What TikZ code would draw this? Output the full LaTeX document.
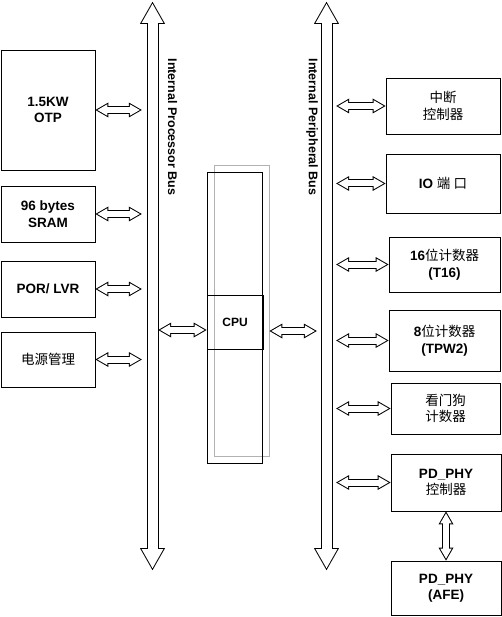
\documentclass[tikz,border=0pt]{standalone}
\usepackage{fontspec}
\setmainfont{Liberation Sans}
\newfontfamily\cjk{Noto Sans CJK SC}
\usetikzlibrary{arrows.meta}
\newcommand{\zh}[1]{{\cjk\mdseries #1}}
\tikzset{
  unit/.style={draw, line width=0.8pt, align=center, inner sep=0pt, font=\fontsize{13.5}{16.5}\selectfont\bfseries},
  busshaft/.style={inner sep=0pt, minimum width=11pt, minimum height=568pt},
  buslabel/.style={rotate=-90, inner sep=0pt, font=\fontsize{12.5}{15}\selectfont\bfseries},
  linkarrow/.style={draw=white, line width=6pt,
    >={Triangle[length=10pt,width=11.5pt,line width=0pt]}, <->,
    shorten <=2pt, shorten >=2pt,
    preaction={draw=black, line width=8pt,
      >={Triangle[length=13pt,width=15pt,line width=0pt]}, <->,
      shorten <=0pt, shorten >=0pt}},
  busarrow/.style={draw=white, line width=10pt,
    >={Triangle[length=19pt,width=21.6pt,line width=0pt]}, <->,
    shorten <=2pt, shorten >=2pt,
    preaction={draw=black, line width=12pt,
      >={Triangle[length=22pt,width=25pt,line width=0pt]}, <->,
      shorten <=0pt, shorten >=0pt}},
}
\begin{document}
\begin{tikzpicture}[x=1pt, y=-1pt]
\useasboundingbox (0,0) rectangle (502,617);
% buses
\node[busshaft] (ipb) at (152.5,286) {};
\node[busshaft] (ppb) at (326.5,286) {};
\draw[busarrow] (ipb.north) -- (ipb.south);
\draw[busarrow] (ppb.north) -- (ppb.south);
\node[buslabel] (ipblabel) at (172.5,127) {Internal Processor Bus};
\node[buslabel] (ppblabel) at (312,127) {Internal Peripheral Bus};
% memories and system blocks
\node[unit, minimum width=94pt, minimum height=120pt] (otp) at (48,110) {1.5KW\\OTP};
\node[unit, minimum width=94pt, minimum height=56pt] (sram) at (48,214) {96 bytes\\SRAM};
\node[unit, minimum width=94pt, minimum height=56pt] (por) at (48,289) {POR/ LVR};
\node[unit, minimum width=94pt, minimum height=55pt] (power) at (48,359.5) {\zh{电源管理}};
% cpu
\node[draw=black!30, line width=0.8pt, minimum width=55pt, minimum height=291pt] (cpushadow) at (241.5,310.5) {};
\node[draw, line width=0.8pt, minimum width=55pt, minimum height=291pt] (cpubar) at (234.5,317.5) {};
\node[unit, minimum width=56pt, minimum height=54pt, font=\fontsize{12}{14}\selectfont\bfseries] (cpu) at (235,322) {CPU};
% peripherals
\node[unit, minimum width=114pt, minimum height=56pt] (intc) at (443,106) {\zh{中断}\\\zh{控制器}};
\node[unit, minimum width=114pt, minimum height=59pt] (io) at (443,183.5) {IO \zh{端 口}};
\node[unit, minimum width=111pt, minimum height=55pt] (t16) at (444.5,264.5) {16\zh{位计数器}\\(T16)};
\node[unit, minimum width=111pt, minimum height=61pt] (tpw) at (444.5,340.5) {8\zh{位计数器}\\(TPW2)};
\node[unit, minimum width=109pt, minimum height=51pt] (wdt) at (445.5,408.5) {\zh{看门狗}\\\zh{计数器}};
\node[unit, minimum width=110pt, minimum height=57pt] (phy) at (446,482.5) {PD\_PHY\\\zh{控制器}};
\node[unit, minimum width=110pt, minimum height=54pt] (afe) at (446,588) {PD\_PHY\\(AFE)};
% links
\draw[linkarrow] (otp.east) -- ([xshift=-5pt]ipb.west |- otp.east);
\draw[linkarrow] (sram.east) -- ([xshift=-5pt]ipb.west |- sram.east);
\draw[linkarrow] (por.east) -- ([xshift=-5pt]ipb.west |- por.east);
\draw[linkarrow] (power.east) -- ([xshift=-5pt]ipb.west |- power.east);
\draw[linkarrow] ([yshift=-8pt]ipb.east |- cpu.west) -- ([yshift=-8pt]cpu.west);
\draw[linkarrow] ([yshift=-9pt]cpushadow.east |- cpu.east) -- ([xshift=-4pt,yshift=-9pt]ppb.west |- cpu.east);
\draw[linkarrow] ([xshift=4pt]ppb.east |- intc.west) -- (intc.west);
\draw[linkarrow] ([xshift=4pt]ppb.east |- io.west) -- (io.west);
\draw[linkarrow] ([xshift=4pt]ppb.east |- t16.west) -- (t16.west);
\draw[linkarrow] ([xshift=4pt]ppb.east |- tpw.west) -- (tpw.west);
\draw[linkarrow] ([xshift=4pt]ppb.east |- wdt.west) -- (wdt.west);
\draw[linkarrow] ([xshift=4pt]ppb.east |- phy.west) -- (phy.west);
\draw[linkarrow] (phy.south) -- (afe.north);
\end{tikzpicture}
\end{document}
